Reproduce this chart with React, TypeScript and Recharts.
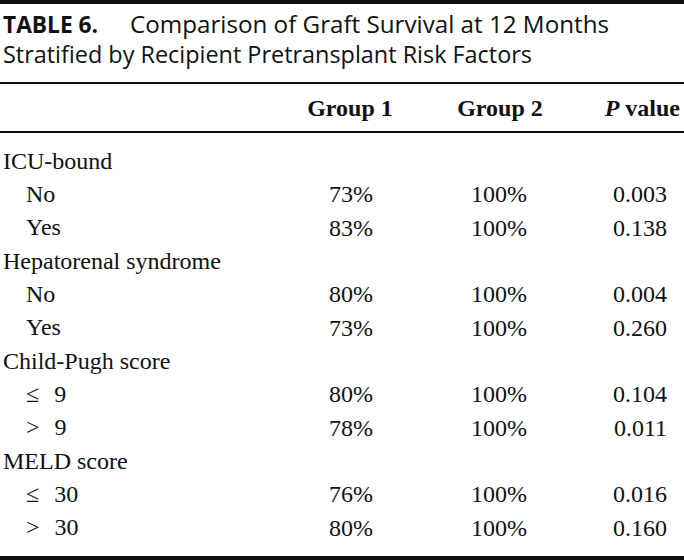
import { Bar, ComposedChart, LabelList, XAxis, YAxis } from "recharts";

// row labels, top to bottom
const rowLabels = [
  "ICU-bound",
  "No",
  "Yes",
  "Hepatorenal syndrome",
  "No",
  "Yes",
  "Child-Pugh score",
  "≤ 9",
  "> 9",
  "MELD score",
  "≤ 30",
  "> 30",
];
const rowIndent = [false, true, true, false, true, true, false, true, true, false, true, true];

// graft survival at 12 months, %
const group1 = [null, 73, 83, null, 80, 73, null, 80, 78, null, 76, 80];
const group2 = [null, 100, 100, null, 100, 100, null, 100, 100, null, 100, 100];
const pValues = [null, 0.003, 0.138, null, 0.004, 0.26, null, 0.104, 0.011, null, 0.016, 0.16];

const columnHeaders = ["Group 1", "Group 2"];

const data = rowLabels.map((label, i) => ({
  label,
  g1: group1[i],
  g2: group2[i],
  p: pValues[i],
}));

const W = 684;
const H = 560;
const SERIF = "'Liberation Serif', 'Times New Roman', serif";
const SANS = "'Open Sans', 'Noto Sans', sans-serif";
const FS = 24;
const G1_X = 351;
const G2_X = 499;
const P_X = 667;

const RowTick = (props: any) => {
  const { y, payload, index } = props;
  const indent = rowIndent[index];
  // the ≤ / > rows are set with a wider gap before the number
  const symbolRow = /^[≤>]/.test(String(payload.value));
  return (
    <text
      x={indent ? 26 : 3}
      y={y + 8}
      fontFamily={SERIF}
      fontSize={FS}
      fill="#111"
      wordSpacing={symbolRow ? 9 : 0}
    >
      {payload.value}
    </text>
  );
};

const cell = (x: number, anchor: "middle" | "end", fmt: (v: number) => string) => (props: any) => {
  const { y, height, value } = props;
  if (value === null || value === undefined) return null;
  return (
    <text
      x={x}
      y={y + height / 2 + 8}
      textAnchor={anchor}
      fontFamily={SERIF}
      fontSize={FS}
      fill="#111"
    >
      {fmt(value)}
    </text>
  );
};

const pct = (v: number) => `${v}%`;

const TableFrame = () => (
  <g>
    <rect x={0} y={0} width={W} height={4} fill="#111" />
    <text x={3} y={33} fontFamily={SANS} fontSize={24} fontWeight="bold" fill="#111" textLength={95} lengthAdjust="spacingAndGlyphs">
      TABLE 6.
    </text>
    <text x={130} y={33} fontFamily={SANS} fontSize={24} fill="#111" textLength={479} lengthAdjust="spacingAndGlyphs">
      Comparison of Graft Survival at 12 Months
    </text>
    <text x={3} y={63} fontFamily={SANS} fontSize={24} fill="#111" textLength={529} lengthAdjust="spacingAndGlyphs">
      Stratified by Recipient Pretransplant Risk Factors
    </text>
    <rect x={0} y={82} width={W} height={2} fill="#111" />
    <text x={G1_X - 1} y={116} textAnchor="middle" fontFamily={SERIF} fontSize={FS} fontWeight="bold" fill="#111">
      {columnHeaders[0]}
    </text>
    <text x={G2_X + 1} y={116} textAnchor="middle" fontFamily={SERIF} fontSize={FS} fontWeight="bold" fill="#111">
      {columnHeaders[1]}
    </text>
    <text x={680} y={116} textAnchor="end" fontFamily={SERIF} fontSize={FS} fontWeight="bold" fill="#111">
      <tspan fontStyle="italic">P</tspan> value
    </text>
    <rect x={0} y={131} width={W} height={2} fill="#111" />
    <rect x={0} y={556} width={W} height={4} fill="#111" />
  </g>
);

export default function App() {
  return (
    <div style={{ position: "absolute", left: 0, top: 0, width: W, height: H, background: "#fff" }}>
      <ComposedChart
        width={W}
        height={H}
        data={data}
        layout="vertical"
        margin={{ top: 144, right: 0, bottom: 16, left: 0 }}
      >
        <XAxis type="number" hide domain={[0, "dataMax"]} />
        <YAxis
          type="category"
          dataKey="label"
          width={290}
          axisLine={false}
          tickLine={false}
          tick={<RowTick />}
          interval={0}
        />
        <Bar dataKey="g1" stackId="t" fill="transparent" isAnimationActive={false}>
          <LabelList dataKey="g1" content={cell(G1_X, "middle", pct)} />
        </Bar>
        <Bar dataKey="g2" stackId="t" fill="transparent" isAnimationActive={false}>
          <LabelList dataKey="g2" content={cell(G2_X, "middle", pct)} />
        </Bar>
        <Bar dataKey="p" stackId="t" fill="transparent" isAnimationActive={false}>
          <LabelList dataKey="p" content={cell(P_X, "end", (v) => v.toFixed(3))} />
        </Bar>
        <TableFrame />
      </ComposedChart>
    </div>
  );
}
